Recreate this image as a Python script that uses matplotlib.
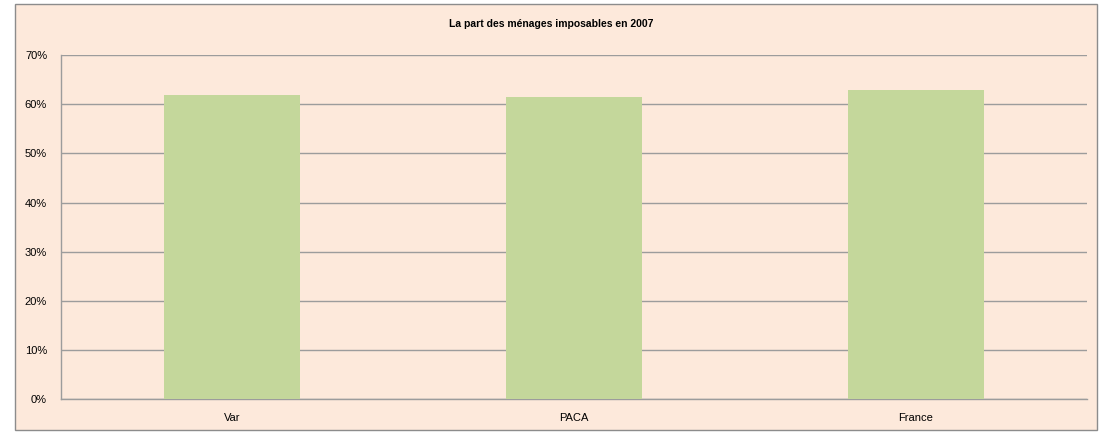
import matplotlib.pyplot as plt
from matplotlib.patches import Rectangle
from matplotlib.ticker import PercentFormatter

categories = ['Var', 'PACA', 'France']
values = [61.85, 61.4, 62.9]
title = 'La part des ménages imposables en 2007'

bg = '#FDE9DB'
bar_color = '#C4D79B'
grid_color = '#9C9C9C'

plt.rcParams['font.family'] = ['Liberation Sans', 'DejaVu Sans']

fig = plt.figure(figsize=(11.02, 4.34), dpi=100, facecolor='white')
# outer chart area with border, kept behind the axes
fig.patches.append(Rectangle((15 / 1102, 4 / 434), 1082 / 1102, 426 / 434,
                             transform=fig.transFigure, facecolor=bg,
                             edgecolor='#8C8C8C', linewidth=1, zorder=-10))

ax = fig.add_axes([61 / 1102, (434 - 399.3) / 434, 1026 / 1102, 344.3 / 434])
ax.patch.set_alpha(0)

x = range(len(categories))
ax.bar(x, values, width=0.4, color=bar_color, zorder=3)
ax.set_xlim(-0.5, len(categories) - 0.5)
ax.set_ylim(0, 70)
ax.set_yticks(range(0, 71, 10))
ax.yaxis.set_major_formatter(PercentFormatter(decimals=0))
ax.set_xticks(list(x))
ax.set_xticklabels(categories)
ax.tick_params(axis='both', length=0, labelsize=8, colors='black')
ax.tick_params(axis='x', pad=10)
ax.tick_params(axis='y', pad=10)
ax.grid(axis='y', color=grid_color, linewidth=1, zorder=1)
for s in ['top', 'right']:
    ax.spines[s].set_visible(False)
for s in ['left', 'bottom']:
    ax.spines[s].set_color(grid_color)
    ax.spines[s].set_linewidth(1)

fig.text(0.5, 1 - 24 / 434, title, ha='center', va='center',
         fontsize=7.5, fontweight='bold')

fig.savefig('out.png', dpi=100)
